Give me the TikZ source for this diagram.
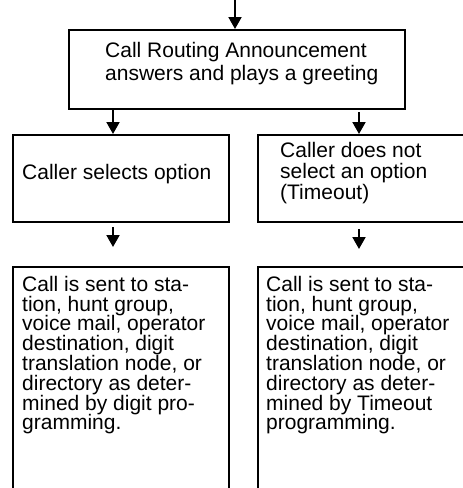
\documentclass[tikz,border=0pt]{standalone}
\usepackage{fontspec}
\setmainfont{Liberation Sans}
\usetikzlibrary{arrows.meta}
\newcommand{\firststrut}{\rule{0pt}{16pt}}
\tikzset{
  box/.style={draw=black, line width=2pt, anchor=north west, inner sep=0pt},
  txt/.style={anchor=north west, inner sep=0pt, align=left, font=\fontsize{21}{19.8}\selectfont},
  toptxt/.style={txt, font=\fontsize{21}{23}\selectfont},
  midtxt/.style={txt, font=\fontsize{21}{21.3}\selectfont},
  arr/.style={line width=2pt, -{Triangle[length=12pt,width=13pt]}}
}
\begin{document}
\begin{tikzpicture}[x=1pt,y=-1pt]
\useasboundingbox (0,0) rectangle (463,488);
\clip (0,0) rectangle (463,488);
% boxes
\node[box, minimum width=336pt, minimum height=79pt] (topbox) at (68,29) {};
\node[box, minimum width=216pt, minimum height=87pt] (midL) at (12,134) {};
\node[box, minimum width=220pt, minimum height=87pt] (midR) at (257,134) {};
\node[box, minimum width=216pt, minimum height=240pt] (botL) at (12,266) {};
\node[box, minimum width=220pt, minimum height=240pt] (botR) at (257,266) {};
% texts
\node[toptxt] (t1) at (105,41) {\firststrut Call Routing Announcement\\answers and plays a greeting};
\node[txt] (t2) at (22,163) {\firststrut Caller selects option};
\node[midtxt] (t3) at (280,141) {\firststrut Caller does not\\select an option\\(Timeout)};
\node[txt] (t4) at (22,275) {\firststrut Call is sent to sta-\\tion, hunt group,\\voice mail, operator\\destination, digit\\translation node, or\\directory as deter-\\mined by digit pro-\\gramming.};
\node[txt] (t5) at (266,275) {\firststrut Call is sent to sta-\\tion, hunt group,\\voice mail, operator\\destination, digit\\translation node, or\\directory as deter-\\mined by Timeout\\programming.};
% arrow positions
\coordinate (start) at (235,0);
\coordinate (xl) at (113,0);
\coordinate (xr) at (359,0);
% connectors
\draw[arr] (start) -- (start |- topbox.north);
\draw[arr] (xl |- topbox.south) -- (xl |- midL.north);
\draw[arr, shorten <=2pt] (xr |- topbox.south) -- (xr |- midR.north);
\draw[arr, shorten <=4pt, shorten >=19pt] (xl |- midL.south) -- (xl |- botL.north);
\draw[arr, shorten <=6pt, shorten >=17pt] (xr |- midR.south) -- (xr |- botR.north);
\end{tikzpicture}
\end{document}
